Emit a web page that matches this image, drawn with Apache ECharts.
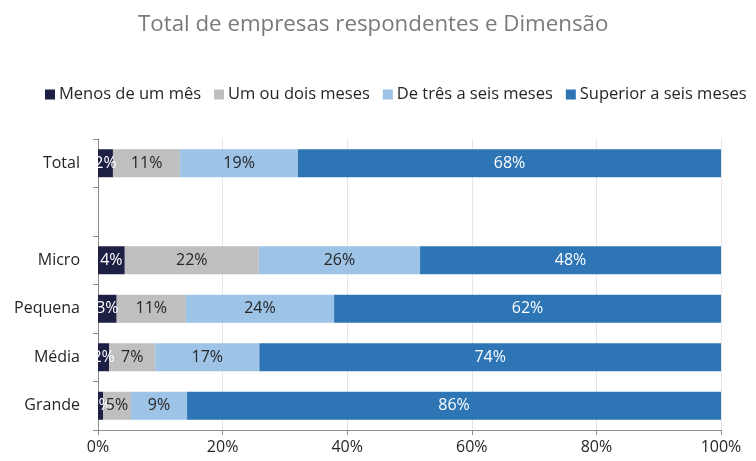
<!DOCTYPE html>
<html>
<head>
<meta charset="utf-8">
<script src="https://cdn.jsdelivr.net/npm/echarts@6/dist/echarts.min.js"></script>
<style>
	html, body {margin: 0; padding: 0; background: #fff;}
	#chart {width: 756px; height: 461px;}
</style>
</head>
<body>
<div id="chart"></div>
<script>
// categorias de cima para baixo (a linha vazia separa o total)
const categories = ['Total', '', 'Micro', 'Pequena', 'Média', 'Grande'];
const seriesNames = ['Menos de um mês', 'Um ou dois meses', 'De três a seis meses', 'Superior a seis meses'];
const menosUmMes = [2.4, '-', 4.3, 3.0, 1.8, 0.8];
const umDoisMeses = [10.8, '-', 21.5, 11.1, 7.4, 4.5];
const tresSeisMeses = [18.9, '-', 25.9, 23.8, 16.7, 9.0];
const superiorSeis = [67.9, '-', 48.3, 62.1, 74.1, 85.7];
const xTicks = [0, 20, 40, 60, 80, 100];

const colors = ['#1e1f45', '#bfbfbf', '#9dc3e6', '#2e75b6'];
const labelColors = ['#ffffff', '#262626', '#262626', '#ffffff'];
const font = '"Open Sans", "Liberation Sans", sans-serif';

let myChart = echarts.init(document.getElementById('chart'));
let values = [menosUmMes, umDoisMeses, tresSeisMeses, superiorSeis];

let option = {
	animation: false,
	color: colors,
	title: {
		text: 'Total de empresas respondentes e Dimensão',
		left: 133,
		top: 9,
		textStyle: {
			fontFamily: font,
			fontSize: 22.3,
			fontWeight: 'normal',
			color: '#7a7a7a'
		}
	},
	legend: {
		top: 81,
		left: 40,
		itemWidth: 10,
		itemHeight: 10,
		itemGap: 13,
		icon: 'rect',
		textStyle: {
			fontFamily: font,
			fontSize: 16.5,
			color: '#262626',
			padding: [0, 0, 0, -1]
		},
		data: seriesNames
	},
	grid: {
		left: 98,
		right: 35,
		top: 139,
		bottom: 31
	},
	xAxis: {
		type: 'value',
		min: 0,
		max: 100,
		interval: 20,
		axisLine: {show: true, lineStyle: {color: '#8c8c8c'}},
		axisTick: {show: true, length: 5, lineStyle: {color: '#8c8c8c'}},
		splitLine: {show: true, lineStyle: {color: '#e6e6e6'}},
		axisLabel: {
			fontFamily: font,
			fontSize: 16,
			color: '#262626',
			margin: 9,
			formatter: v => xTicks.includes(v) ? v + '%' : ''
		}
	},
	yAxis: {
		type: 'category',
		inverse: true,
		data: categories,
		axisLine: {show: true, lineStyle: {color: '#8c8c8c'}},
		axisTick: {show: true, length: 5, lineStyle: {color: '#8c8c8c'}},
		axisLabel: {
			fontFamily: font,
			fontSize: 16,
			color: '#262626',
			margin: 18
		}
	},
	series: seriesNames.map((name, i) => ({
		name: name,
		type: 'bar',
		stack: 'total',
		barWidth: 28,
		data: values[i],
		label: {
			show: true,
			position: 'inside',
			fontFamily: font,
			fontSize: 16,
			color: labelColors[i],
			formatter: p => Math.round(p.value) + '%'
		}
	}))
};

myChart.setOption(option);
</script>
</body>
</html>
